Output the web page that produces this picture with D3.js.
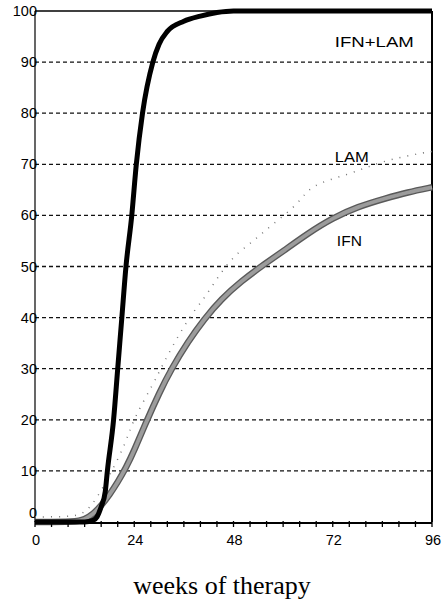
<!DOCTYPE html>
<html>
<head>
<meta charset="utf-8">
<script src="https://cdn.jsdelivr.net/npm/d3@7"></script>
<style>
  body { margin:0; background:#fff; }
  text { font-family: "Liberation Sans", Arial, sans-serif; }
</style>
</head>
<body>
<svg class="chart"></svg>
<script>
// data (weeks, % response)
var weeksCombo = [0, 12, 14, 15, 16, 17, 17.5, 19, 20, 21, 22, 23.4, 24.5, 26, 28.5, 30, 32, 36, 40, 44, 48, 96];
var valuesCombo = [0, 0, 0.3, 1, 3, 6, 10, 20, 30, 40, 50, 60, 70, 80, 90, 93.5, 96, 98, 99, 99.7, 100, 100];

var weeksIFN = [0, 10, 12, 14, 16, 18, 20, 22, 24, 27, 30, 33, 37, 41, 45, 50, 55, 60, 66, 72, 78, 85, 90, 96];
var valuesIFN = [0, 0, 0.5, 1.5, 3.2, 5.3, 7.8, 10.6, 14, 19.8, 25.2, 30, 35.3, 39.8, 43.6, 47.2, 50.2, 53, 56.5, 59.5, 61.7, 63.4, 64.5, 65.5];

var weeksLAM = [0, 8, 12, 15, 18, 22, 23.7, 28.6, 31, 35, 39, 40.7, 47, 52, 57, 64, 66.5, 76, 83.4, 92, 96];
var valuesLAM = [1, 1, 1.5, 4.7, 9, 15.5, 20, 27, 31, 37, 42, 43.4, 51.5, 54.4, 58, 62.4, 66, 68, 70.5, 72, 72.5];

var yTicks = [0, 10, 20, 30, 40, 50, 60, 70, 80, 90, 100];
var xLabels = [0, 24, 48, 72, 96];
var xMinor = d3.range(0, 97, 4);

var seriesNames = ['IFN+LAM', 'LAM', 'IFN'];

var svgwidth = 446, svgheight = 603;
var svg = d3.select('.chart').attr('width', svgwidth).attr('height', svgheight);

var x = d3.scaleLinear().domain([0, 96]).range([35, 432]);
var y = d3.scaleLinear().domain([0, 100]).range([522, 11]);

var zip = function(ws, vs){
  return ws.map(function(w, i){ return {w: w, v: vs[i]}; });
};

// grid lines
svg.selectAll('.grid').data(yTicks.filter(function(d){ return d > 0 && d < 100; }))
   .enter().append('line')
   .attr('x1', x(0)).attr('x2', x(96))
   .attr('y1', function(d){ return y(d); })
   .attr('y2', function(d){ return y(d); })
   .attr('stroke', '#111')
   .attr('stroke-width', 1.3)
   .attr('stroke-dasharray', '4,3');

// frame
svg.append('line').attr('x1', x(0)).attr('x2', x(96)).attr('y1', y(100)).attr('y2', y(100))
   .attr('stroke', '#000').attr('stroke-width', 1.5);
svg.append('line').attr('x1', x(96)).attr('x2', x(96)).attr('y1', y(100)).attr('y2', y(0))
   .attr('stroke', '#000').attr('stroke-width', 2);
svg.append('line').attr('x1', x(0)).attr('x2', x(0)).attr('y1', y(100)).attr('y2', y(0))
   .attr('stroke', '#000').attr('stroke-width', 1.2);

// y labels
svg.selectAll('.ylab').data(yTicks).enter().append('text')
   .attr('x', 37)
   .attr('y', function(d){ return y(d) + (d === 0 ? -4 : 5); })
   .attr('text-anchor', 'end')
   .style('font-size', '14.5px')
   .text(function(d){ return d; });

// lines
var line = d3.line()
  .x(function(d){ return x(d.w); })
  .y(function(d){ return y(d.v); })
  .curve(d3.curveMonotoneX);
var smooth = d3.line()
  .x(function(d){ return x(d.w); })
  .y(function(d){ return y(d.v); })
  .curve(d3.curveBasis);

svg.append('path').datum(zip(weeksLAM, valuesLAM))
   .attr('d', smooth).attr('fill', 'none')
   .attr('stroke', '#777').attr('stroke-width', 1.5)
   .attr('stroke-dasharray', '1,7');

svg.append('path').datum(zip(weeksIFN, valuesIFN))
   .attr('d', smooth).attr('fill', 'none')
   .attr('stroke', '#5a5a5a').attr('stroke-width', 6.5);
svg.append('path').datum(zip(weeksIFN, valuesIFN))
   .attr('d', smooth).attr('fill', 'none')
   .attr('stroke', '#9c9c9c').attr('stroke-width', 3.8);

svg.append('path').datum(zip(weeksCombo, valuesCombo))
   .attr('d', line).attr('fill', 'none')
   .attr('stroke', '#000').attr('stroke-width', 5)
   .attr('stroke-linejoin', 'round');

// x axis
var xAxis = svg.append('g').attr('transform', 'translate(0,' + (y(0) + 1) + ')');
xAxis.append('line').attr('x1', x(0)).attr('x2', x(96)).attr('stroke', '#000').attr('stroke-width', 2);
xAxis.selectAll('.tick').data(xMinor).enter().append('line')
     .attr('x1', function(d){ return x(d); }).attr('x2', function(d){ return x(d); })
     .attr('y1', -2).attr('y2', 4)
     .attr('stroke', '#000').attr('stroke-width', 1.3);
xAxis.selectAll('.xlab').data(xLabels).enter().append('text')
     .attr('x', function(d){ return x(d) + 1; })
     .attr('y', 22)
     .attr('text-anchor', 'middle')
     .style('font-size', '14.5px')
     .text(function(d){ return d; });

// series labels
var labelPos = [{w: 72.5, v: 93, len: 79}, {w: 72.5, v: 70.5, len: 34}, {w: 73, v: 54, len: 25}];
svg.selectAll('.slab').data(seriesNames).enter().append('text')
   .attr('x', function(d, i){ return x(labelPos[i].w); })
   .attr('y', function(d, i){ return y(labelPos[i].v); })
   .attr('textLength', function(d, i){ return labelPos[i].len; })
   .attr('lengthAdjust', 'spacingAndGlyphs')
   .style('font-size', '14px')
   .text(function(d){ return d; });

// axis title
svg.append('text').attr('x', 222).attr('y', 594)
   .attr('text-anchor', 'middle')
   .style('font-family', '"Liberation Serif", "Times New Roman", serif')
   .style('font-size', '26px')
   .text('weeks of therapy');
</script>
</body>
</html>
